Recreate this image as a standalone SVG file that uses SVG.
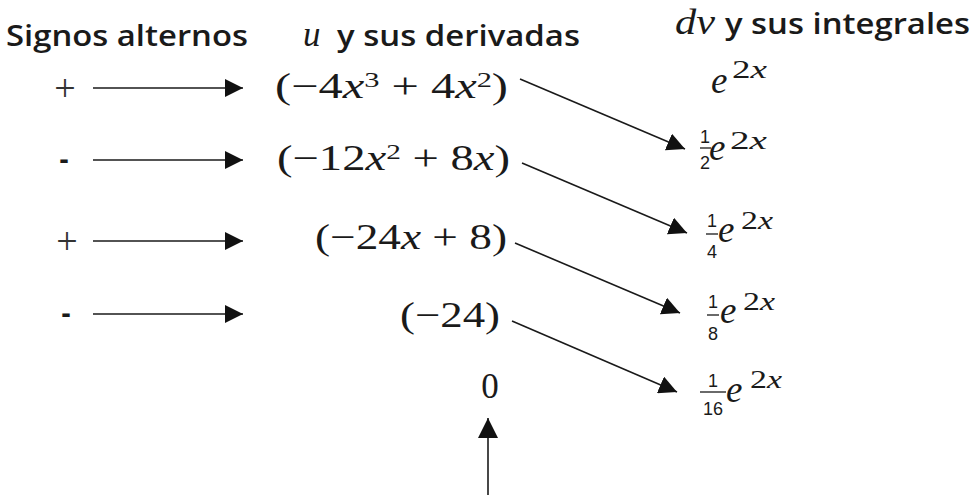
<svg xmlns="http://www.w3.org/2000/svg" width="974" height="495" viewBox="0 0 974 495">
<defs>
<style>
.h{font-family:"Open Sans","Noto Sans",sans-serif;font-size:29px;font-weight:600;fill:#1a1a1a}
.m{font-family:"Liberation Serif","Times New Roman",serif;font-size:35px;fill:#1a1a1a}
.i{font-style:italic}
.sup{font-size:22px}
.e{font-family:"Liberation Serif","Times New Roman",serif;font-size:37px;font-style:italic;fill:#1a1a1a}
.s2{font-family:"Liberation Serif","Times New Roman",serif;font-size:25px;fill:#1a1a1a}
.f{font-family:"Liberation Sans",Arial,sans-serif;font-size:18px;fill:#1a1a1a;text-anchor:middle}
.sg{font-family:"Open Sans","Noto Sans",sans-serif;font-size:28px;font-weight:700;fill:#1a1a1a;text-anchor:middle}
.pl{font-family:"Liberation Serif",serif;font-size:38px;fill:#333;text-anchor:middle}
.ln{stroke:#1a1a1a;stroke-width:1.6;fill:none}
.bar{stroke:#1a1a1a;stroke-width:1.3}
</style>
<marker id="ah" viewBox="0 0 10 10" refX="10" refY="5" markerWidth="18" markerHeight="18" markerUnits="userSpaceOnUse" orient="auto">
<path d="M0,0 L10,5 L0,10 Z" fill="#111"/>
</marker>
<marker id="ah2" viewBox="0 0 10 10" refX="10" refY="5" markerWidth="20" markerHeight="20" markerUnits="userSpaceOnUse" orient="auto">
<path d="M0,0 L10,5 L0,10 Z" fill="#111"/>
</marker>
</defs>
<rect width="974" height="495" fill="#fff"/>

<g id="headers">
<text class="h" x="6" y="46" textLength="242" lengthAdjust="spacingAndGlyphs">Signos alternos</text>
<text class="m i" x="303" y="46" font-size="33">u</text>
<text class="h" x="337" y="46" textLength="243" lengthAdjust="spacingAndGlyphs">y sus derivadas</text>
<text class="m i" x="675" y="34" font-size="33" textLength="40" lengthAdjust="spacingAndGlyphs">dv</text>
<text class="h" x="725" y="34" textLength="245" lengthAdjust="spacingAndGlyphs">y sus integrales</text>
</g>

<g id="signs">
<text class="pl" x="65" y="101">+</text>
<text class="sg" x="64" y="169">-</text>
<text class="pl" x="67" y="254">+</text>
<text class="sg" x="66" y="323">-</text>
</g>

<g id="u-terms">
<text id="u0" class="m" x="275" y="98" textLength="233" lengthAdjust="spacingAndGlyphs">(−4<tspan class="i">x</tspan><tspan class="sup" dy="-11">3</tspan><tspan dy="11"> + 4</tspan><tspan class="i">x</tspan><tspan class="sup" dy="-11">2</tspan><tspan dy="11">)</tspan></text>
<text id="u1" class="m" x="277" y="170" textLength="233" lengthAdjust="spacingAndGlyphs">(−12<tspan class="i">x</tspan><tspan class="sup" dy="-11">2</tspan><tspan dy="11"> + 8</tspan><tspan class="i">x</tspan>)</text>
<text id="u2" class="m" x="315" y="249" textLength="192" lengthAdjust="spacingAndGlyphs">(−24<tspan class="i">x</tspan> + 8)</text>
<text id="u3" class="m" x="400" y="327" textLength="100" lengthAdjust="spacingAndGlyphs">(−24)</text>
<text id="u4" class="m" x="490" y="398" font-size="38" text-anchor="middle">0</text>
</g>

<g id="dv-terms">
<g id="dv0">
<text class="e" x="711" y="93">e</text>
<text class="s2" x="732" y="78" textLength="35" lengthAdjust="spacingAndGlyphs">2<tspan class="i">x</tspan></text>
</g>
<g id="dv1">
<text class="f" x="705" y="143">1</text>
<line class="bar" x1="700" y1="148" x2="711" y2="148"/>
<text class="f" x="705" y="169">2</text>
<text class="e" x="709" y="160">e</text>
<text class="s2" x="730" y="149" textLength="37" lengthAdjust="spacingAndGlyphs">2<tspan class="i">x</tspan></text>
</g>
<g id="dv2">
<text class="f" x="712" y="227">1</text>
<line class="bar" x1="706" y1="234" x2="718" y2="234"/>
<text class="f" x="712" y="258">4</text>
<text class="e" x="718" y="242">e</text>
<text class="s2" x="741" y="229" textLength="32" lengthAdjust="spacingAndGlyphs">2<tspan class="i">x</tspan></text>
</g>
<g id="dv3">
<text class="f" x="713" y="308">1</text>
<line class="bar" x1="707" y1="315" x2="719" y2="315"/>
<text class="f" x="713" y="340">8</text>
<text class="e" x="720" y="323">e</text>
<text class="s2" x="743" y="310" textLength="32" lengthAdjust="spacingAndGlyphs">2<tspan class="i">x</tspan></text>
</g>
<g id="dv4">
<text class="f" x="713" y="387">1</text>
<line class="bar" x1="700" y1="392" x2="726" y2="392"/>
<text class="f" x="713" y="415">16</text>
<text class="e" x="726" y="402">e</text>
<text class="s2" x="750" y="388" textLength="32" lengthAdjust="spacingAndGlyphs">2<tspan class="i">x</tspan></text>
</g>
</g>

<g id="connectors">
<line class="ln" x1="93" y1="88" x2="243" y2="88" marker-end="url(#ah)"/>
<line class="ln" x1="93" y1="160" x2="243" y2="160" marker-end="url(#ah)"/>
<line class="ln" x1="93" y1="241" x2="243" y2="241" marker-end="url(#ah)"/>
<line class="ln" x1="93" y1="314" x2="243" y2="314" marker-end="url(#ah)"/>
<line class="ln" x1="520" y1="79" x2="685" y2="149" marker-end="url(#ah)"/>
<line class="ln" x1="522" y1="163" x2="687" y2="233" marker-end="url(#ah)"/>
<line class="ln" x1="515" y1="243" x2="680" y2="313" marker-end="url(#ah)"/>
<line class="ln" x1="512" y1="321" x2="677" y2="392" marker-end="url(#ah)"/>
<line class="ln" x1="488" y1="495" x2="488" y2="418" marker-end="url(#ah2)"/>
</g>
</svg>
